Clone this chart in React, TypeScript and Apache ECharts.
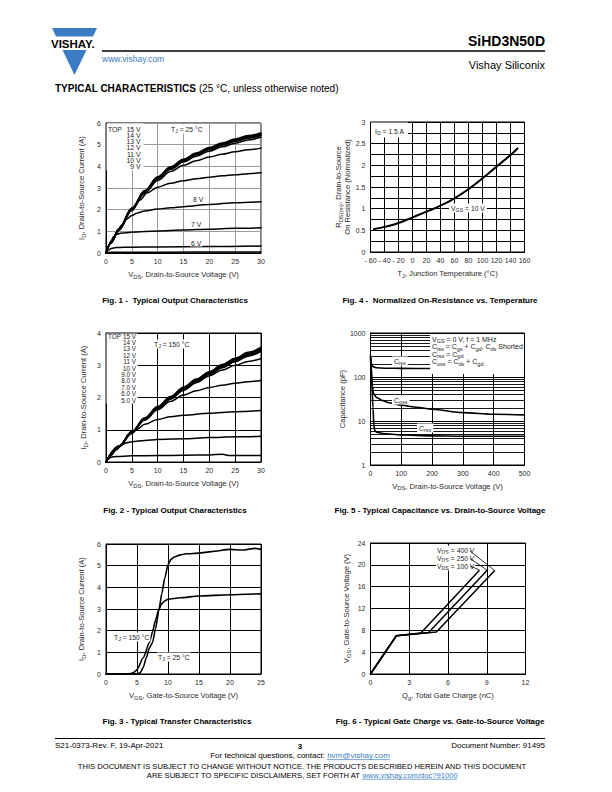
import React, { useEffect, useRef } from "react";
import * as echarts from "echarts";

const FONT = "'Liberation Sans', Arial, Helvetica, sans-serif";
const INK = "#1c1c1c";
const BLUE = "#3b7cc4";

// ---------- Fig. 1 : output characteristics, TJ = 25 °C ----------
const fig1V15 = [[0,0],[1,0.5],[2.5,1.12],[5,2.08],[7.5,2.88],[10,3.52],[12.5,3.98],[15,4.33],[17.5,4.62],[20,4.87],[22.5,5.08],[25,5.26],[27.5,5.42],[30,5.55]];
const fig1V14 = [[0,0],[1,0.5],[2.5,1.11],[5,2.06],[7.5,2.86],[10,3.5],[12.5,3.96],[15,4.31],[17.5,4.59],[20,4.84],[22.5,5.05],[25,5.23],[27.5,5.38],[30,5.51]];
const fig1V13 = [[0,0],[1,0.49],[2.5,1.1],[5,2.05],[7.5,2.84],[10,3.47],[12.5,3.93],[15,4.28],[17.5,4.56],[20,4.81],[22.5,5.01],[25,5.19],[27.5,5.34],[30,5.47]];
const fig1V12 = [[0,0],[1,0.49],[2.5,1.09],[5,2.03],[7.5,2.82],[10,3.45],[12.5,3.9],[15,4.25],[17.5,4.53],[20,4.77],[22.5,4.97],[25,5.15],[27.5,5.3],[30,5.42]];
const fig1V11 = [[0,0],[1,0.48],[2.5,1.08],[5,2.02],[7.5,2.8],[10,3.42],[12.5,3.86],[15,4.2],[17.5,4.47],[20,4.7],[22.5,4.9],[25,5.07],[27.5,5.22],[30,5.35]];
const fig1V10 = [[0,0],[1,0.48],[2.5,1.07],[5,2.0],[7.5,2.76],[10,3.35],[12.5,3.76],[15,4.05],[17.5,4.26],[20,4.43],[22.5,4.56],[25,4.67],[27.5,4.76],[30,4.84]];
const fig1V9 = [[0,0],[1,0.47],[2.5,1.05],[5,1.95],[6.5,2.43],[8,2.78],[10,3.04],[12.5,3.22],[15,3.34],[17.5,3.43],[20,3.5],[22.5,3.56],[25,3.61],[27.5,3.66],[30,3.7]];
const fig1V8 = [[0,0],[1,0.45],[2,0.9],[3,1.28],[4,1.56],[5,1.73],[6,1.84],[7.5,1.94],[10,2.03],[12.5,2.09],[15,2.14],[20,2.24],[25,2.32],[30,2.37]];
const fig1V7 = [[0,0],[0.5,0.3],[1,0.58],[1.5,0.76],[2,0.86],[3,0.92],[5,0.96],[10,1.02],[15,1.06],[20,1.1],[25,1.14],[30,1.16]];
const fig1V6 = [[0,0],[0.5,0.14],[1,0.21],[2,0.25],[5,0.27],[10,0.28],[20,0.3],[30,0.32]];
const fig1V5 = [[0,0],[1,0.03],[10,0.04],[30,0.05]];
const fig1List = ["15 V", "14 V", "13 V", "12 V", "11 V", "10 V", "9 V"];

// ---------- Fig. 2 : output characteristics, TJ = 150 °C ----------
const fig2V15 = [[0,0],[2.5,0.5],[5,0.95],[7.5,1.37],[10,1.72],[12.5,2.03],[15,2.32],[17.5,2.57],[20,2.8],[22.5,3.02],[25,3.22],[27.5,3.4],[30,3.56]];
const fig2V14 = [[0,0],[2.5,0.49],[5,0.94],[7.5,1.35],[10,1.7],[12.5,2.01],[15,2.3],[17.5,2.55],[20,2.78],[22.5,3.0],[25,3.19],[27.5,3.37],[30,3.52]];
const fig2V13 = [[0,0],[2.5,0.49],[5,0.93],[7.5,1.34],[10,1.69],[12.5,2.0],[15,2.28],[17.5,2.53],[20,2.76],[22.5,2.97],[25,3.16],[27.5,3.34],[30,3.49]];
const fig2V12 = [[0,0],[2.5,0.48],[5,0.93],[7.5,1.33],[10,1.68],[12.5,1.98],[15,2.26],[17.5,2.51],[20,2.74],[22.5,2.95],[25,3.14],[27.5,3.31],[30,3.46]];
const fig2V11 = [[0,0],[2.5,0.48],[5,0.92],[7.5,1.32],[10,1.66],[12.5,1.96],[15,2.24],[17.5,2.49],[20,2.71],[22.5,2.92],[25,3.11],[27.5,3.28],[30,3.43]];
const fig2V10 = [[0,0],[2.5,0.48],[5,0.92],[7.5,1.31],[10,1.65],[12.5,1.95],[15,2.22],[17.5,2.46],[20,2.67],[22.5,2.85],[25,3.0],[27.5,3.12],[30,3.21]];
const fig2V9 = [[0,0],[2.5,0.48],[5,0.91],[7.5,1.3],[10,1.62],[12.5,1.88],[15,2.08],[17.5,2.21],[20,2.31],[22.5,2.38],[25,2.44],[27.5,2.49],[30,2.53]];
const fig2V8 = [[0,0],[2.5,0.47],[5,0.88],[6,1.01],[7.5,1.17],[10,1.32],[12.5,1.4],[15,1.45],[20,1.51],[25,1.56],[30,1.6]];
const fig2V7 = [[0,0],[1,0.2],[2,0.38],[3,0.52],[4,0.6],[5,0.63],[7.5,0.67],[10,0.7],[15,0.72],[20,0.76],[25,0.78],[30,0.8]];
const fig2V6 = [[0,0],[0.5,0.1],[1,0.15],[2,0.17],[5,0.19],[10,0.2],[15,0.21],[20,0.22],[22.5,0.24],[24,0.2],[30,0.2]];
const fig2List = ["15 V", "14 V", "13 V", "12 V", "11 V", "10 V", "9.0 V", "8.0 V", "7.0 V", "6.0 V", "5.0 V"];

// ---------- Fig. 3 : transfer characteristics ----------
const fig3T25 = [[0,0],[4,0],[5,0.01],[5.5,0.05],[6,0.3],[6.5,0.75],[7,1.2],[7.5,1.45],[8,2.1],[8.5,2.9],[9,3.7],[9.5,4.45],[10,5.05],[10.5,5.3],[11,5.4],[12,5.5],[13,5.55],[15,5.58],[17,5.65],[20,5.75],[22,5.72],[24,5.8],[25,5.75]];
const fig3T150 = [[0,0],[3,0],[4,0.02],[4.5,0.08],[5,0.2],[6,0.75],[7,1.45],[7.5,1.95],[8,2.5],[8.5,2.95],[9,3.25],[9.5,3.38],[10,3.45],[12,3.52],[15,3.6],[20,3.66],[25,3.7]];

// ---------- Fig. 4 : normalized on-resistance ----------
const fig4Temp = [-55, -40, -20, 0, 20, 40, 60, 80, 100, 120, 140, 150];
const fig4Ron = [0.53, 0.58, 0.67, 0.8, 0.93, 1.07, 1.24, 1.45, 1.7, 1.97, 2.24, 2.39];

// ---------- Fig. 5 : capacitance ----------
const fig5Ciss = [[0,300],[3,200],[8,172],[20,162],[50,158],[100,157],[200,156],[300,154],[400,153],[500,152]];
const fig5Coss = [[0,300],[2,200],[4,100],[6,60],[10,42],[20,34],[40,29],[60,26],[100,23],[150,20.5],[200,18.5],[300,15.5],[400,14.2],[500,13.8]];
const fig5Crss = [[0,260],[2,150],[5,60],[8,20],[11,8],[14,6],[20,5.6],[40,5.2],[100,4.8],[200,4.6],[300,4.5],[500,4.5]];
const fig5Minor = [2,3,4,5,6,7,8,9,20,30,40,50,60,70,80,90,200,300,400,500,600,700,800,900];

// ---------- Fig. 6 : gate charge ----------
const fig6V100 = [[0,0],[2,7],[3.9,7.5],[8.4,18.9]];
const fig6V250 = [[0,0],[2,7],[4.5,7.6],[9.0,18.9]];
const fig6V400 = [[0,0],[2,7],[5.1,7.7],[9.6,18.9]];

const SUB = (fs: number, fill = INK) => ({ fontSize: fs, padding: [fs * 0.75, 0, 0, 0], color: fill, fill, fontFamily: FONT });

const GRIDS = [
  { left: 106, top: 123, width: 155, height: 130 }, // fig1
  { left: 370.5, top: 122, width: 154, height: 130 }, // fig4
  { left: 106, top: 333, width: 155, height: 129 }, // fig2
  { left: 370.5, top: 333, width: 154, height: 132 }, // fig5
  { left: 106, top: 544, width: 155, height: 130 }, // fig3
  { left: 370.5, top: 543, width: 155, height: 131 }, // fig6
];

const labelStyle = { fontSize: 7, color: "#2a2a2a", fontFamily: FONT };
const nameStyle = { fontSize: 7.6, color: "#2a2a2a", fontFamily: FONT, rich: { sub: SUB(5.8, "#2a2a2a") } };

function xAxis(g: number, min: number, max: number, interval: number, name: string, gap: number, gridColor = "#000", fmt?: (v: number) => string) {
  return {
    gridIndex: g, type: "value", min, max, interval,
    axisLine: { show: true, lineStyle: { color: "#000", width: 1 } },
    axisTick: { show: false },
    splitLine: { show: true, lineStyle: { color: gridColor, width: 1 } },
    axisLabel: { ...labelStyle, margin: 5, showMinLabel: true, showMaxLabel: true, formatter: fmt },
    name, nameLocation: "middle", nameGap: gap, nameTextStyle: nameStyle,
  };
}
function yAxis(g: number, min: number, max: number, interval: number | undefined, name: string, gap: number, gridColor = "#000", fmt?: (v: number) => string, log = false) {
  const a: any = {
    gridIndex: g, type: log ? "log" : "value", min, max,
    axisLine: { show: true, lineStyle: { color: "#000", width: 1 } },
    axisTick: { show: false },
    splitLine: { show: true, lineStyle: { color: gridColor, width: 1 } },
    axisLabel: { ...labelStyle, margin: 5, showMinLabel: true, showMaxLabel: true, formatter: fmt },
    name, nameLocation: "middle", nameGap: gap, nameTextStyle: nameStyle,
  };
  if (log) a.logBase = 10; else a.interval = interval;
  return a;
}

function curve(g: number, data: number[][], smooth: number | boolean = 0.35, w = 1.5, mono = true) {
  const s: any = {
    type: "line", xAxisIndex: g, yAxisIndex: g, data, showSymbol: false, symbol: "none",
    smooth, silent: true, z: 3,
    lineStyle: { color: "#000", width: w, join: "round", cap: "round" },
  };
  if (mono) s.smoothMonotone = "x";
  return s;
}

function T(x: number, y: number, text: string, o: any = {}) {
  return {
    type: "text", x, y, z: 100, silent: true,
    style: {
      text, fontSize: o.fs ?? 7, fontFamily: FONT, fontWeight: o.bold ? "bold" : "normal",
      fill: o.fill ?? INK, align: o.align ?? "left", verticalAlign: "middle",
      rich: o.rich ?? { sub: SUB((o.fs ?? 7) * 0.78) },
      backgroundColor: o.bg, padding: o.pad,
    },
  };
}
function R(x: number, y: number, w: number, h: number, fill = "#fff") {
  return { type: "rect", z: 90, silent: true, shape: { x, y, width: w, height: h }, style: { fill, stroke: "none" } };
}
function L(x1: number, y1: number, x2: number, y2: number, w = 1, stroke = "#000") {
  return { type: "line", z: 100, silent: true, shape: { x1, y1, x2, y2 }, style: { stroke, lineWidth: w } };
}

export default function App() {
  const ref = useRef<HTMLDivElement>(null);
  useEffect(() => {
    if (!ref.current) return;
    const chart = echarts.init(ref.current, undefined, { renderer: "svg" });

    const fig4Data = fig4Temp.map((t, i) => [t, fig4Ron[i]]);
    const minorLines = {
      silent: true, symbol: "none", label: { show: false },
      lineStyle: { color: "#000", width: 0.9, type: "solid" },
      emphasis: { disabled: true },
      data: fig5Minor.map((v) => ({ yAxis: v })),
    };

    const graphicEls: any[] = [
      // header logo
      { type: "polygon", z: 100, silent: true, shape: { points: [[52, 28], [97, 28], [93, 36.5], [56, 36.5]] }, style: { fill: BLUE } },
      { type: "polygon", z: 100, silent: true, shape: { points: [[62.5, 50], [86.5, 50], [74.5, 75]] }, style: { fill: BLUE } },
      T(51, 43.5, "VISHAY.", { fs: 11.5, bold: true, fill: "#000" }),
      T(102, 58.5, "www.vishay.com", { fs: 8.5, fill: BLUE }),
      L(102, 51, 545, 51, 1.3),
      T(545, 41, "SiHD3N50D", { fs: 14, bold: true, align: "right", fill: "#000" }),
      T(545, 64.5, "Vishay Siliconix", { fs: 11, align: "right", fill: "#000" }),
      T(55, 88, "{b|TYPICAL CHARACTERISTICS} (25 °C, unless otherwise noted)", { fs: 10, fill: "#000", rich: { b: { fontSize: 10, fontWeight: "bold", fill: "#000", fontFamily: FONT } } }),

      // captions
      T(175, 300, "Fig. 1 -  Typical Output Characteristics", { fs: 8, bold: true, align: "center", fill: "#000" }),
      T(440, 300, "Fig. 4 -  Normalized On-Resistance vs. Temperature", { fs: 8, bold: true, align: "center", fill: "#000" }),
      T(175, 510, "Fig. 2 - Typical Output Characteristics", { fs: 8, bold: true, align: "center", fill: "#000" }),
      T(440, 510, "Fig. 5 - Typical Capacitance vs. Drain-to-Source Voltage", { fs: 8, bold: true, align: "center", fill: "#000" }),
      T(177, 721, "Fig. 3 - Typical Transfer Characteristics", { fs: 8, bold: true, align: "center", fill: "#000" }),
      T(440, 721, "Fig. 6 - Typical Gate Charge vs. Gate-to-Source Voltage", { fs: 8, bold: true, align: "center", fill: "#000" }),

      // Fig 1 annotations
      R(106.5, 123.5, 37, 47),
      T(108, 129, "TOP", { fs: 6.8 }),
      ...fig1List.map((s, i) => T(140.5, 129 + i * 6.3, s, { fs: 6.8, align: "right" })),
      T(170, 129, "T{sub|J} = 25 °C", { fs: 6.8, bg: "#fff", pad: [0, 1, 0, 1] }),
      T(192, 199, "8 V", { fs: 6.8, bg: "#fff", pad: [0, 1, 0, 1] }),
      T(190, 224, "7 V", { fs: 6.8, bg: "#fff", pad: [0, 1, 0, 1] }),
      T(190, 243, "6 V", { fs: 6.8, bg: "#fff", pad: [0, 1, 0, 1] }),

      // Fig 2 annotations
      R(106.5, 333.5, 31, 70),
      T(108, 336, "TOP", { fs: 6.3 }),
      ...fig2List.map((s, i) => T(136, 336 + i * 6.4, s, { fs: 6.3, align: "right" })),
      T(153, 344, "T{sub|J} = 150 °C", { fs: 6.8, bg: "#fff", pad: [0, 1, 0, 1] }),

      // Fig 3 annotations
      T(113, 637, "T{sub|J} = 150 °C", { fs: 6.8, bg: "#fff", pad: [0, 1, 0, 1] }),
      T(157, 657, "T{sub|J} = 25 °C", { fs: 6.8, bg: "#fff", pad: [0, 1, 0, 1] }),

      // Fig 4 annotations
      R(371, 122.5, 37, 15),
      T(375, 131, "I{sub|D} = 1.5 A", { fs: 6.8 }),
      T(449, 208, "V{sub|GS} = 10 V", { fs: 6.8, bg: "#fff", pad: [0, 2, 0, 2] }),

      // Fig 5 annotations
      R(430, 334, 94, 40),
      T(432, 339, "V{sub|GS} = 0 V, f = 1 MHz", { fs: 7 }),
      T(432, 346.5, "C{sub|iss} = C{sub|gs} + C{sub|gd}, C{sub|ds} Shorted", { fs: 7 }),
      T(432, 354, "C{sub|rss} = C{sub|gd}", { fs: 7 }),
      T(432, 361.5, "C{sub|oss} = C{sub|ds} + C{sub|gd}", { fs: 7 }),
      T(392, 361, "C{sub|iss}", { fs: 7, bg: "#fff", pad: [0, 2, 0, 2] }),
      T(392, 400, "C{sub|oss}", { fs: 7, bg: "#fff", pad: [0, 2, 0, 2] }),
      T(417, 428, "C{sub|rss}", { fs: 7, bg: "#fff", pad: [0, 2, 0, 2] }),

      // Fig 6 annotations
      T(436, 550, "V{sub|DS} = 400 V", { fs: 6.8, bg: "#fff", pad: [0, 1, 0, 1] }),
      T(436, 558, "V{sub|DS} = 250 V", { fs: 6.8, bg: "#fff", pad: [0, 1, 0, 1] }),
      T(436, 566, "V{sub|DS} = 100 V", { fs: 6.8, bg: "#fff", pad: [0, 1, 0, 1] }),
      L(470, 551, 494, 570, 0.8),
      L(470, 558.5, 487, 570, 0.8),
      L(470, 566, 479.5, 570, 0.8),

      // footer
      L(55, 738.5, 545, 738.5, 1),
      T(55, 745.5, "S21-0373-Rev. F, 19-Apr-2021", { fs: 8, fill: "#000" }),
      T(300, 746.5, "3", { fs: 8, bold: true, align: "center", fill: "#000" }),
      T(545, 745.5, "Document Number: 91495", { fs: 8, align: "right", fill: "#000" }),
      T(300, 755.5, "For technical questions, contact: {l|hvm@vishay.com}", { fs: 8, align: "center", fill: "#000", rich: { l: { fontSize: 8, fill: BLUE, fontFamily: FONT } } }),
      L(327, 759.6, 390, 759.6, 0.7, BLUE),
      T(302, 766.5, "THIS DOCUMENT IS SUBJECT TO CHANGE WITHOUT NOTICE. THE PRODUCTS DESCRIBED HEREIN AND THIS DOCUMENT", { fs: 7.6, align: "center", fill: "#000" }),
      T(302, 775, "ARE SUBJECT TO SPECIFIC DISCLAIMERS, SET FORTH AT {l|www.vishay.com/doc?91000}", { fs: 7.6, align: "center", fill: "#000", rich: { l: { fontSize: 7.6, fill: BLUE, fontFamily: FONT } } }),
      L(362, 779.2, 457, 779.2, 0.7, BLUE),
    ];

    const option: any = {
      animation: false,
      backgroundColor: "#fff",
      textStyle: { fontFamily: FONT },
      grid: GRIDS.map((g) => ({ ...g, show: true, borderColor: "#000", borderWidth: 1, backgroundColor: "transparent", containLabel: false })),
      xAxis: [
        xAxis(0, 0, 30, 5, "V{sub|DS}, Drain-to-Source Voltage (V)", 16.5, "#9a9a9a"),
        xAxis(1, -60, 160, 20, "T{sub|J}, Junction Temperature (°C)", 16.5, "#000", (v) => (v < 0 ? "- " + Math.abs(v) : String(v))),
        xAxis(2, 0, 30, 5, "V{sub|DS}, Drain-to-Source Voltage (V)", 16.5),
        xAxis(3, 0, 500, 100, "V{sub|DS}, Drain-to-Source Voltage (V)", 16),
        xAxis(4, 0, 25, 5, "V{sub|GS}, Gate-to-Source Voltage (V)", 16.5),
        xAxis(5, 0, 12, 3, "Q{sub|g}, Total Gate Charge (nC)", 16.5),
      ],
      yAxis: [
        yAxis(0, 0, 6, 1, "I{sub|D}, Drain-to-Source Current (A)", 19, "#9a9a9a"),
        yAxis(1, 0, 3, 0.25, "R{sub|DS(on)}, Drain-to-Source\nOn Resistance (Normalized)", 18, "#000", (v) => (Math.abs(v * 2 - Math.round(v * 2)) < 1e-9 ? String(v) : "")),
        yAxis(2, 0, 4, 1, "I{sub|D}, Drain-to-Source Current (A)", 17),
        yAxis(3, 1, 1000, undefined, "Capacitance (pF)", 24, "#000", (v) => String(v), true),
        yAxis(4, 0, 6, 1, "I{sub|D}, Drain-to-Source Current (A)", 19),
        yAxis(5, 0, 24, 4, "V{sub|GS}, Gate-to-Source Voltage (V)", 19),
      ],
      series: [
        curve(0, fig1V15), curve(0, fig1V14), curve(0, fig1V13), curve(0, fig1V12), curve(0, fig1V11),
        curve(0, fig1V10), curve(0, fig1V9), curve(0, fig1V8), curve(0, fig1V7), curve(0, fig1V6), curve(0, fig1V5),
        curve(1, fig4Data, 0.5, 2, false),
        curve(2, fig2V15), curve(2, fig2V14), curve(2, fig2V13), curve(2, fig2V12), curve(2, fig2V11),
        curve(2, fig2V10), curve(2, fig2V9), curve(2, fig2V8), curve(2, fig2V7), curve(2, fig2V6),
        { ...curve(3, fig5Ciss, 0.3, 1.6), markLine: minorLines },
        curve(3, fig5Coss, 0.3, 1.6), curve(3, fig5Crss, 0.3, 1.6),
        curve(4, fig3T25, 0.2, 1.6), curve(4, fig3T150, 0.2, 1.6),
        curve(5, fig6V100, false, 1.5), curve(5, fig6V250, false, 1.5), curve(5, fig6V400, false, 1.5),
      ],
      graphic: { elements: graphicEls },
    };
    chart.setOption(option);
    return () => chart.dispose();
  }, []);
  return <div ref={ref} style={{ position: "absolute", left: 0, top: 0, width: 612, height: 792, background: "#fff" }} />;
}
